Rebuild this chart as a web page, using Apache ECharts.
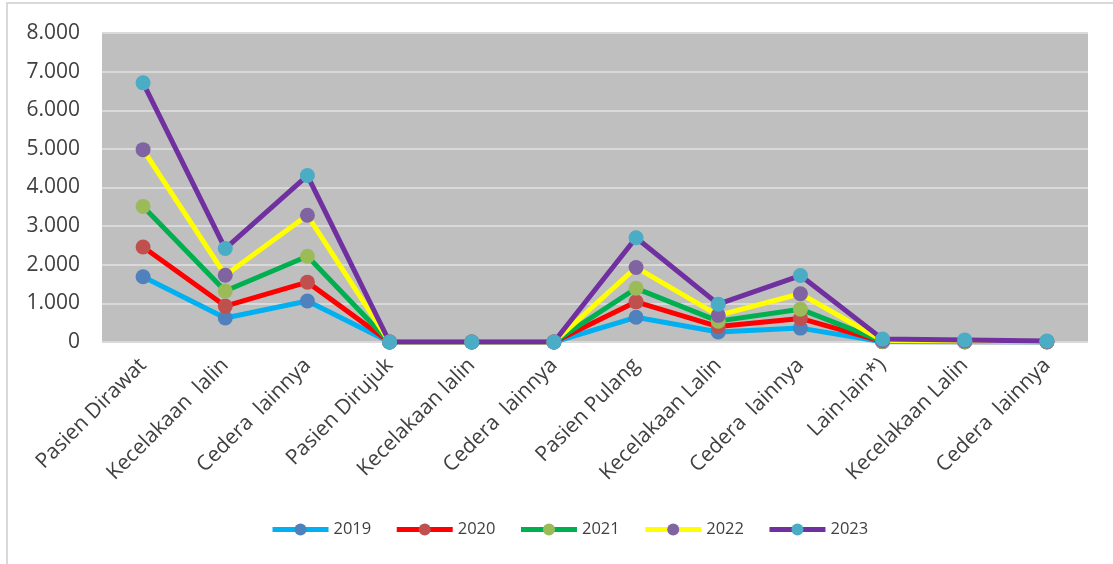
<!DOCTYPE html>
<html>
<head>
<meta charset="utf-8">
<script src="https://cdn.jsdelivr.net/npm/echarts@6/dist/echarts.min.js"></script>
<style>
  html, body { margin: 0; padding: 0; background: #ffffff; }
  #chart { width: 1113px; height: 564px; }
</style>
</head>
<body>
<div id="chart"></div>
<script>
// Patient counts per category, 2019–2023
const categories = [
  'Pasien Dirawat', 'Kecelakaan  lalin', 'Cedera  lainnya',
  'Pasien Dirujuk', 'Kecelakaan lalin', 'Cedera  lainnya',
  'Pasien Pulang', 'Kecelakaan Lalin', 'Cedera  lainnya',
  'Lain-lain*)', 'Kecelakaan Lalin', 'Cedera  lainnya'
];
const years = ['2019', '2020', '2021', '2022', '2023'];

const values2019 = [1690, 620, 1060, 0, 0, 0, 640, 260, 360, 5, 3, 2];
const values2020 = [2460, 930, 1550, 0, 0, 0, 1040, 400, 610, 10, 6, 4];
const values2021 = [3510, 1320, 2220, 0, 0, 0, 1390, 540, 850, 15, 10, 5];
const values2022 = [4980, 1730, 3280, 0, 0, 0, 1930, 690, 1250, 35, 25, 12];
const values2023 = [6710, 2420, 4310, 0, 0, 0, 2700, 980, 1720, 75, 55, 25];

const seriesValues = [values2019, values2020, values2021, values2022, values2023];
const lineColors = ['#00B0F0', '#FF0000', '#00B050', '#FFFF00', '#7030A0'];
const markerColors = ['#4F81BD', '#C0504D', '#9BBB59', '#8064A2', '#4BACC6'];

const yTicks = { min: 0, max: 8000, interval: 1000 };

const fontFamily = '"Open Sans", "Noto Sans", sans-serif';
const textColor = '#404040';

const chart = echarts.init(document.getElementById('chart'), null, { renderer: 'canvas' });

const series = years.map((name, i) => ({
  name,
  type: 'line',
  data: seriesValues[i],
  symbol: 'circle',
  symbolSize: 15,
  showSymbol: true,
  lineStyle: { color: lineColors[i], width: 5 },
  itemStyle: { color: markerColors[i] },
  emphasis: { disabled: true },
  animation: false
}));

chart.setOption({
  backgroundColor: '#ffffff',
  animation: false,
  graphic: [{
    type: 'rect',
    shape: { x: 7, y: 3, width: 1300, height: 800 },
    style: { fill: 'none', stroke: '#D9D9D9', lineWidth: 2 },
    silent: true,
    z: -10
  }],
  grid: {
    left: 102, right: 25, top: 33, bottom: 222,
    show: true, backgroundColor: '#BFBFBF', borderWidth: 0
  },
  legend: {
    data: years,
    left: 270, top: 521, padding: 0,
    itemWidth: 56, itemHeight: 15, itemGap: 23,
    lineStyle: { width: 5 },
    textStyle: { fontFamily, fontSize: 16.5, color: textColor }
  },
  xAxis: {
    type: 'category',
    data: categories,
    boundaryGap: true,
    axisLine: { show: false },
    axisTick: { show: false },
    axisLabel: {
      interval: 0, rotate: 45, margin: 20,
      fontFamily, fontSize: 21, color: textColor
    },
    splitLine: { show: false }
  },
  yAxis: {
    type: 'value',
    min: yTicks.min, max: yTicks.max, interval: yTicks.interval,
    axisLine: { show: false },
    axisTick: { show: false },
    axisLabel: {
      margin: 22, fontFamily, fontSize: 21, color: textColor,
      formatter: v => String(v).replace(/\B(?=(\d{3})+(?!\d))/g, '.')
    },
    splitLine: { lineStyle: { color: '#D9D9D9', width: 2 } }
  },
  series
});
</script>
</body>
</html>
